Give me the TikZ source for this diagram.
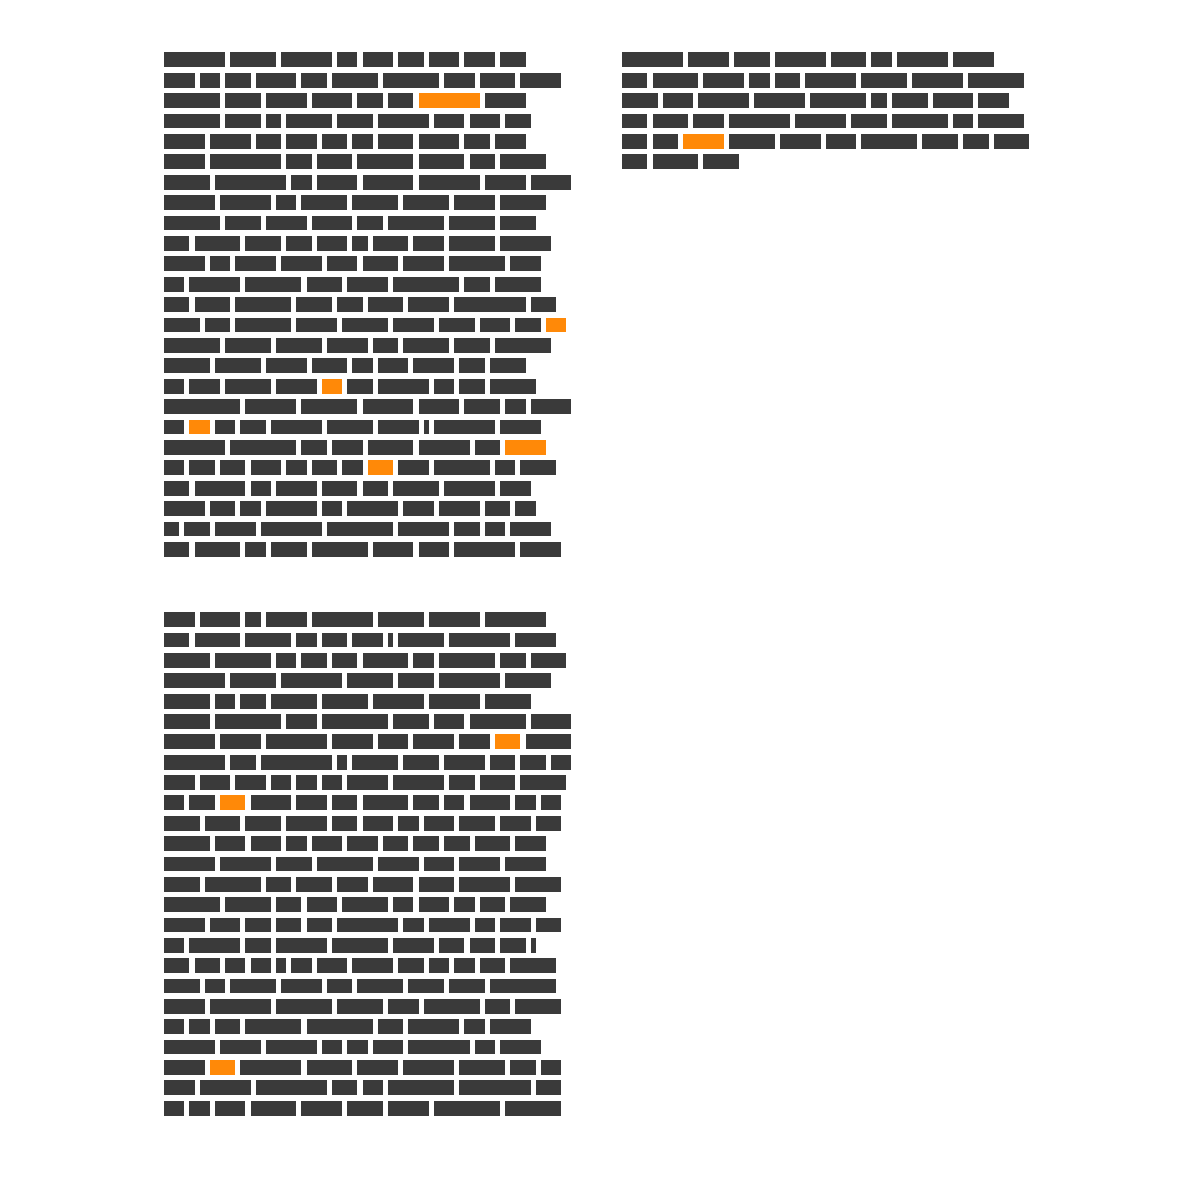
\documentclass[tikz,border=0pt]{standalone}
\definecolor{txt}{RGB}{58,58,58}
\definecolor{hl}{RGB}{255,137,8}
\newcommand\cw{5.0916}
\newcommand\rh{14.8}
\newcommand\textblock[4]{%
  \foreach \row [count=\i from 0] in {#4}{%
    \gdef\curcol{0}%
    \foreach \w in \row {%
      \pgfmathsetmacro\wabs{abs(\w)}%
      \ifdim \w pt<0pt \def\fc{hl}\else\def\fc{txt}\fi
      \fill[fill=\fc] ({#1+\curcol*\cw},{#2+\i*#3}) rectangle ++({\wabs*\cw},\rh);
      \pgfmathsetmacro\nc{\curcol+\wabs+1}%
      \xdef\curcol{\nc}%
    }%
  }%
}
\begin{document}
\begin{tikzpicture}[x=1pt,y=-1pt]
\fill[white] (0,0) rectangle (1181,1181);
\useasboundingbox (0,0) rectangle (1181,1181);
% top-left block
\textblock{164}{52.3}{20.4}{%
{12,9,10,4,6,5,6,6,5},
{6,4,5,8,5,9,11,6,7,8},
{11,7,8,8,5,5,-12,8},
{11,7,3,9,7,10,6,6,5},
{8,8,5,6,5,4,7,8,5,6},
{8,14,5,7,11,9,5,9},
{9,14,4,8,10,12,8,8},
{10,10,4,9,9,9,8,9},
{11,7,8,8,5,11,9,7},
{5,9,7,5,6,3,7,6,9,10},
{8,4,8,8,6,7,8,11,6},
{4,10,11,7,8,13,5,9},
{5,7,11,7,5,7,8,14,5},
{7,5,11,8,9,8,7,6,5,-4},
{11,9,9,8,5,9,7,11},
{9,9,8,7,4,6,8,5,7},
{4,6,9,8,-4,5,10,4,5,9},
{15,10,11,10,8,7,4,8},
{4,-4,4,5,10,9,8,1,12,8},
{12,13,5,6,9,10,5,-8},
{4,5,5,6,4,5,4,-5,6,11,4,7},
{5,10,4,8,7,5,9,10,6},
{8,5,4,10,4,10,6,8,5,4},
{3,5,8,12,13,10,5,4,8},
{5,9,4,7,11,8,6,12,8}}
% bottom-left block
\textblock{164}{612.3}{20.35}{%
{6,8,3,8,12,9,10,12},
{5,9,9,4,5,6,1,9,12,8},
{9,11,4,5,5,9,4,11,5,7},
{12,9,12,9,7,12,9},
{9,4,5,9,9,10,10,9},
{9,13,6,13,7,6,11,8},
{10,8,12,8,6,8,6,-5,9},
{12,5,14,2,9,7,8,5,5,4},
{6,6,6,4,4,4,8,10,5,7,9},
{4,5,-5,8,6,5,9,5,4,8,4,4},
{7,7,7,8,5,6,4,6,7,6,5},
{9,6,6,4,6,6,5,5,5,7,6},
{10,10,7,11,8,6,8,8},
{7,11,5,7,6,8,7,10,9},
{11,9,5,6,9,4,6,4,5,7},
{8,6,5,5,5,12,4,8,4,6,5},
{4,10,5,10,11,8,5,5,5,1},
{5,5,4,4,2,4,6,8,5,4,4,5,9},
{7,4,9,8,5,9,7,7,13},
{8,12,11,9,6,11,5,9},
{4,4,5,11,13,5,10,4,8},
{10,8,10,4,4,6,12,4,8},
{8,-5,12,9,8,10,9,5,4},
{6,10,14,5,4,13,14,5},
{4,4,6,9,8,7,8,13,11}}
% top-right block
\textblock{622}{52.3}{20.4}{%
{12,8,7,10,7,4,10,8},
{5,9,8,4,5,10,9,10,11},
{7,6,10,10,11,3,7,8,6},
{5,7,6,12,10,7,11,4,9},
{5,5,-8,9,8,6,11,7,5,7},
{5,9,7}}
\end{tikzpicture}
\end{document}
